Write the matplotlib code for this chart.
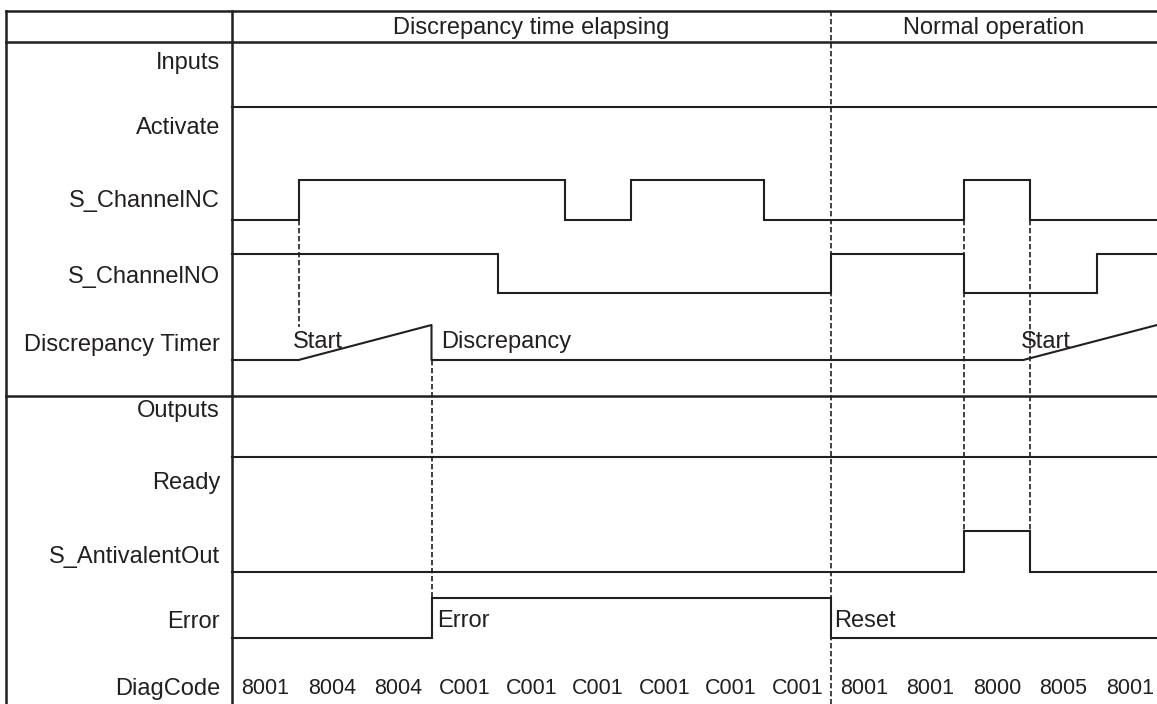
import matplotlib.pyplot as plt

plt.rcParams['font.family'] = ['Liberation Sans', 'DejaVu Sans']

# Signal data (time in DiagCode slots, state 0 = low, 1 = high)
diag_codes = ["8001", "8004", "8004", "C001", "C001", "C001", "C001", "C001", "C001",
              "8001", "8001", "8000", "8005", "8001"]
phases = ["Discrepancy time elapsing", "Normal operation"]
phase_edges = [0, 9]

activate_times = [0]
activate_states = [1]
nc_times = [0, 1, 5, 6, 8, 11, 12]
nc_states = [0, 1, 0, 1, 0, 1, 0]
no_times = [0, 4, 9, 11, 13]
no_states = [1, 0, 1, 0, 1]
timer_times = [0, 1, 3, 3, 11.9, 13.91]
timer_values = [0, 0, 1, 0, 0, 1]
ready_times = [0]
ready_states = [1]
anti_times = [0, 11, 12]
anti_states = [0, 1, 0]
error_times = [0, 3, 9]
error_states = [0, 1, 0]

row_labels = ["Inputs", "Activate", "S_ChannelNC", "S_ChannelNO", "Discrepancy Timer",
              "Outputs", "Ready", "S_AntivalentOut", "Error", "DiagCode"]

# Layout (pixel-like vertical units, time slots horizontally)
W, H = 1157, 704
X0, UNIT = 232, 66.5
t_end = (W - X0) / UNIT
t_left = (6 - X0) / UNIT
t_lab = (220 - X0) / UNIT
label_y = [62.5, 128.5, 201.5, 276.5, 345.5, 411.5, 482.5, 556.5, 622.5, 688.5]
col = '#231f20'
lw = 1.5
fs = 17
fs_code = 15.5

fig = plt.figure(figsize=(W / 100, H / 100), dpi=100)
ax = fig.add_axes([0, 0, 1, 1])
ax.set_xlim(-X0 / UNIT, t_end)
ax.set_ylim(H, 0)
ax.axis('off')


def draw_signal(times, states, base, amp):
    xs = list(times) + [t_end]
    ys = [base - s * amp for s in states]
    ys = ys + [ys[-1]]
    ax.step(xs, ys, where='post', color=col, lw=lw, solid_joinstyle='miter')


def vdash(t, y1, y2):
    ax.plot([t, t], [y1, y2], color=col, lw=1.2, linestyle=(0, (3.2, 1.6)))


# frame
ax.plot([t_left, t_end], [11, 11], color=col, lw=1.8)
ax.plot([t_left, t_end], [42, 42], color=col, lw=1.8)
ax.plot([t_left, t_end], [396, 396], color=col, lw=1.8)
ax.plot([t_left, t_left], [11, H], color=col, lw=1.8)
ax.plot([0, 0], [11, H], color=col, lw=1.8)

# header phases
bounds = phase_edges + [t_end]
for i, name in enumerate(phases):
    ax.text((bounds[i] + bounds[i + 1]) / 2, 28, name, ha='center', va='center',
            fontsize=fs, color=col)

# row labels
for name, y in zip(row_labels, label_y):
    ax.text(t_lab, y, name, ha='right', va='center', fontsize=fs, color=col)

# signals
draw_signal(activate_times, activate_states, 147, 40)
draw_signal(nc_times, nc_states, 220, 40)
draw_signal(no_times, no_states, 293, 39)
ax.plot(timer_times, [360 - v * 35 for v in timer_values], color=col, lw=lw)
draw_signal(ready_times, ready_states, 497, 40)
draw_signal(anti_times, anti_states, 572, 41)
draw_signal(error_times, error_states, 638, 40)

# dashed markers
vdash(1, 220, 327)
vdash(3, 360, 598)
vdash(9, 11, H)
vdash(11, 220, 531)
vdash(12, 220, 531)

# annotations
ax.text(0.92, 342, "Start", ha='left', va='center', fontsize=fs, color=col)
ax.text(3.14, 342, "Discrepancy", ha='left', va='center', fontsize=fs, color=col)
ax.text(11.86, 342, "Start", ha='left', va='center', fontsize=fs, color=col)
ax.text(3.08, 621, "Error", ha='left', va='center', fontsize=fs, color=col)
ax.text(9.05, 621, "Reset", ha='left', va='center', fontsize=fs, color=col)

# diag codes
for i, code in enumerate(diag_codes):
    ax.text(i + 0.5, 688, code, ha='center', va='center', fontsize=fs_code, color=col)

fig.savefig('out.png', dpi=100)
